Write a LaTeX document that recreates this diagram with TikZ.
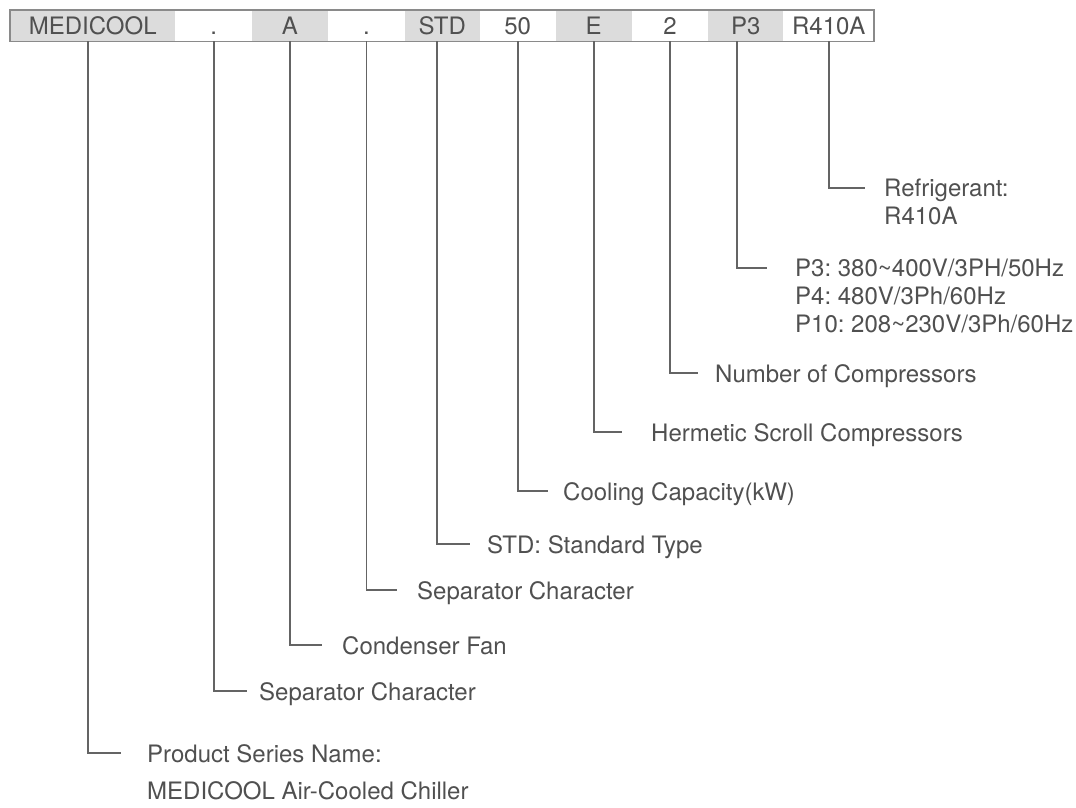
\documentclass[tikz,border=0pt]{standalone}
\usepackage{fontspec}
\setmainfont{TeX Gyre Heros}
\frenchspacing
\usetikzlibrary{positioning}
\definecolor{cellgray}{HTML}{DCDCDC}
\definecolor{txtgray}{HTML}{505050}
\definecolor{linegray}{HTML}{646464}
\definecolor{framegray}{HTML}{8A8A8A}
\tikzset{
  cell/.style={minimum height=31pt, inner sep=0pt, anchor=north west, text=txtgray,
    text height=17pt, text depth=0pt, font=\fontsize{24}{28}\selectfont},
  shaded/.style={cell, fill=cellgray},
  conn/.style={linegray, line width=1.8pt},
  lbl/.style={anchor=north west, inner sep=0pt, align=left, text=txtgray,
    font=\fontsize{24}{28}\selectfont},
}
\begin{document}
\begin{tikzpicture}[x=1pt,y=-1pt]
        \useasboundingbox (0,0) rectangle (1076,807);
        %CODE BAR
        \node[shaded, minimum width=165pt] (cMed) at (10,10) {MEDICOOL};
        \node[cell, minimum width=76pt, right=0pt of cMed] (cDotA) {.};
        \node[shaded, minimum width=76pt, right=0pt of cDotA] (cFan) {A};
        \node[cell, minimum width=76pt, right=0pt of cFan] (cDotB) {.};
        \node[shaded, minimum width=75pt, right=0pt of cDotB] (cStd) {STD};
        \node[cell, minimum width=75pt, right=0pt of cStd] (cCap) {50};
        \node[shaded, minimum width=76pt, right=0pt of cCap] (cComp) {E};
        \node[cell, minimum width=76pt, right=0pt of cComp] (cNum) {2};
        \node[shaded, minimum width=75pt, right=0pt of cNum] (cPow) {P3};
        \node[cell, minimum width=90pt, right=0pt of cPow] (cRef) {R410A};
        \draw[framegray, line width=1.6pt] (cMed.north west) rectangle (cRef.south east);

        %ELBOW ENDS
        \coordinate (eRef)  at (865,188);
        \coordinate (ePow)  at (767,268);
        \coordinate (eNum)  at (698,373);
        \coordinate (eComp) at (622,432);
        \coordinate (eCap)  at (548,491);
        \coordinate (eStd)  at (470,544);
        \coordinate (eDotB) at (397,590);
        \coordinate (eFan)  at (322,645);
        \coordinate (eDotA) at (247,691);
        \coordinate (eMed)  at (121,753);

        %LABELS
        \node[lbl] (lRef)  at ([shift={(19,-9)}]eRef)  {Refrigerant:\\R410A};
        \node[lbl] (lPow)  at ([shift={(28,-9)}]ePow)  {P3: 380\textasciitilde400V/3PH/50Hz\\P4: 480V/3Ph/60Hz\\P10: 208\textasciitilde230V/3Ph/60Hz};
        \node[lbl] (lNum)  at ([shift={(17,-9)}]eNum)  {Number of Compressors};
        \node[lbl] (lComp) at ([shift={(29,-9)}]eComp) {Hermetic Scroll Compressors};
        \node[lbl] (lCap)  at ([shift={(15,-9)}]eCap)  {Cooling Capacity(kW)};
        \node[lbl] (lStd)  at ([shift={(17,-9)}]eStd)  {STD: Standard Type};
        \node[lbl] (lDotB) at ([shift={(20,-9)}]eDotB) {Separator Character};
        \node[lbl] (lFan)  at ([shift={(20,-9)}]eFan)  {Condenser Fan};
        \node[lbl] (lDotA) at ([shift={(12,-9)}]eDotA) {Separator Character};
        \node[lbl] (lMed)  at ([shift={(26,-9)}]eMed)  {Product Series Name:\\[9pt]MEDICOOL Air-Cooled Chiller};

        %CONNECTORS
        \draw[conn] (cRef.south)  |- (eRef);
        \draw[conn] ([xshift=-9pt]cPow.south)  |- (ePow);
        \draw[conn] (cNum.south)  |- (eNum);
        \draw[conn] (cComp.south) |- (eComp);
        \draw[conn] (cCap.south)  |- (eCap);
        \draw[conn] ([xshift=-5pt]cStd.south)  |- (eStd);
        \draw[conn] (cDotB.south) |- (eDotB);
        \draw[conn] (cFan.south)  |- (eFan);
        \draw[conn] (cDotA.south) |- (eDotA);
        \draw[conn] ([xshift=-5pt]cMed.south)  |- (eMed);
\end{tikzpicture}
\end{document}
